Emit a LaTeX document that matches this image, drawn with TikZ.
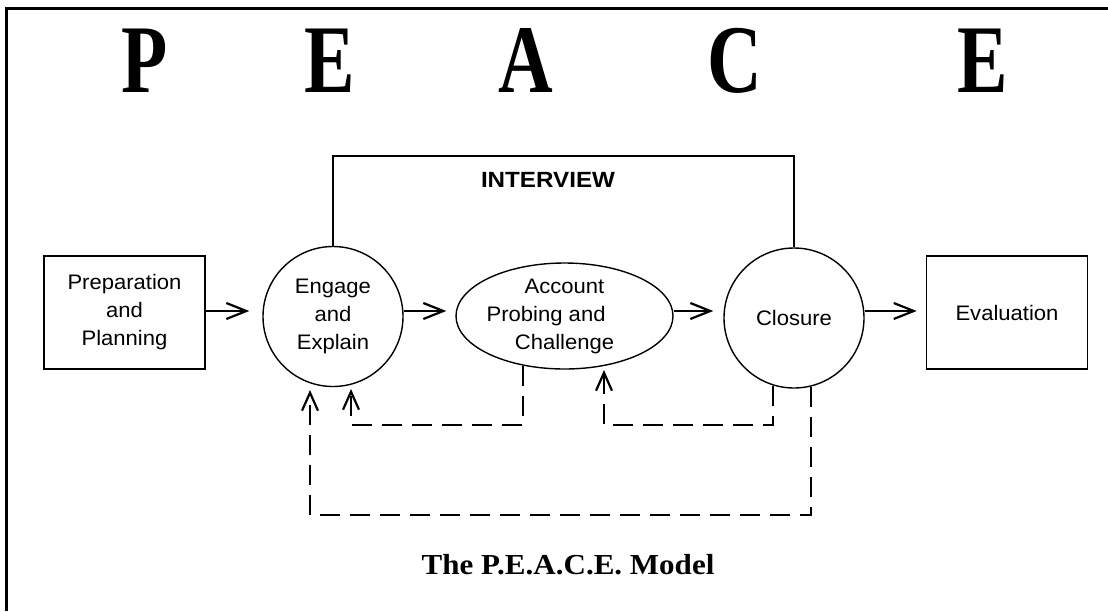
\documentclass[tikz,border=0pt]{standalone}
\usepackage{fontspec}
\setmainfont{Liberation Serif}
\newfontfamily\sansf{Liberation Sans}
\usetikzlibrary{arrows.meta,shapes.geometric}
\begin{document}
\begin{tikzpicture}[x=1pt,y=-1pt,
  txt/.style={inner sep=0pt,align=center,font=\sansf\fontsize{21}{28}\selectfont},
  box/.style={txt,draw,line width=1.6pt,minimum width=161pt,minimum height=113pt},
  circ/.style={txt,draw,circle,line width=1.4pt,minimum size=140pt},
  ell/.style={draw,ellipse,line width=1.4pt,inner sep=0pt,minimum width=217pt,minimum height=106pt},
  flow/.style={line width=1.7pt,-{Straight Barb[length=20pt,width=16pt,line width=2.2pt]}},
  back/.style={line width=2pt,dash pattern=on 20pt off 10pt,-{Straight Barb[length=18pt,width=16pt,line width=2.2pt]}},
  big/.style={font=\bfseries\fontsize{97}{97}\selectfont,anchor=base,inner sep=0pt}]
\useasboundingbox (0,0) rectangle (1108,611);
\draw[line width=3pt] (6.5,611) -- (6.5,8) -- (1108,8);
% title letters
\node[big] (lP) at (145,92) {\scalebox{0.78}[1]{P}};
\node[big] (lE1) at (330,92) {\scalebox{0.78}[1]{E}};
\node[big] (lA) at (526,92) {\scalebox{0.78}[1]{A}};
\node[big] (lC) at (735,92) {\scalebox{0.78}[1]{C}};
\node[big] (lE2) at (983,92) {\scalebox{0.78}[1]{E}};
% nodes
\node[box] (prep) at (124.5,312.5) {\scalebox{1.05}[1]{Preparation}\\\scalebox{1.05}[1]{and}\\\scalebox{1.05}[1]{Planning}};
\node[circ] (eng) at (333,316.5) {\scalebox{1.05}[1]{Engage}\\\scalebox{1.05}[1]{and}\\\scalebox{1.05}[1]{Explain}};
\node[ell] (acc) at (564.5,316) {};
\node[txt] (acct) at (acc.center) {\scalebox{1.05}[1]{Account}\\\scalebox{1.05}[1]{Probing and\phantom{and}}\\\scalebox{1.05}[1]{Challenge}};
\node[circ] (clo) at (794,318) {\scalebox{1.05}[1]{Closure}};
\node[box] (eval) at (1007,312.5) {\scalebox{1.05}[1]{Evaluation}};
% interview bracket
\coordinate (itop) at (0,156);
\draw[line width=1.6pt] (eng.north) -- (eng.north |- itop) -- (clo.north |- itop) -- (clo.north);
\node[inner sep=0pt,font=\sansf\bfseries\fontsize{22}{22}\selectfont] (iv) at (548,180) {\scalebox{1.1}[1]{INTERVIEW}};
% forward arrows
\coordinate (ay) at (0,311);
\draw[flow,shorten >=13pt] (prep.east |- ay) -- (eng.west |- ay);
\draw[flow,shorten >=9pt] (eng.east |- ay) -- (acc.west |- ay);
\draw[flow,shorten >=10pt] (acc.east |- ay) -- (clo.west |- ay);
\draw[flow,shorten >=9pt] (clo.east |- ay) -- (eval.west |- ay);
% feedback loops
\coordinate (r1) at (351,425);
\coordinate (t1) at (351,389);
\coordinate (r2) at (604,425);
\coordinate (t2) at (604,370);
\coordinate (r3) at (310,515);
\coordinate (t3) at (310,390);
\draw[back] (acc.230) |- (r1) -- (t1);
\draw[back] (clo.253) |- (r2) -- (t2);
\draw[back] (clo.284) |- (r3) -- (t3);
% caption
\node[anchor=base,inner sep=0pt,font=\bfseries\fontsize{29}{29}\selectfont] (cap) at (568,574) {\scalebox{1.07}[1]{The P.E.A.C.E. Model}};
\end{tikzpicture}
\end{document}
